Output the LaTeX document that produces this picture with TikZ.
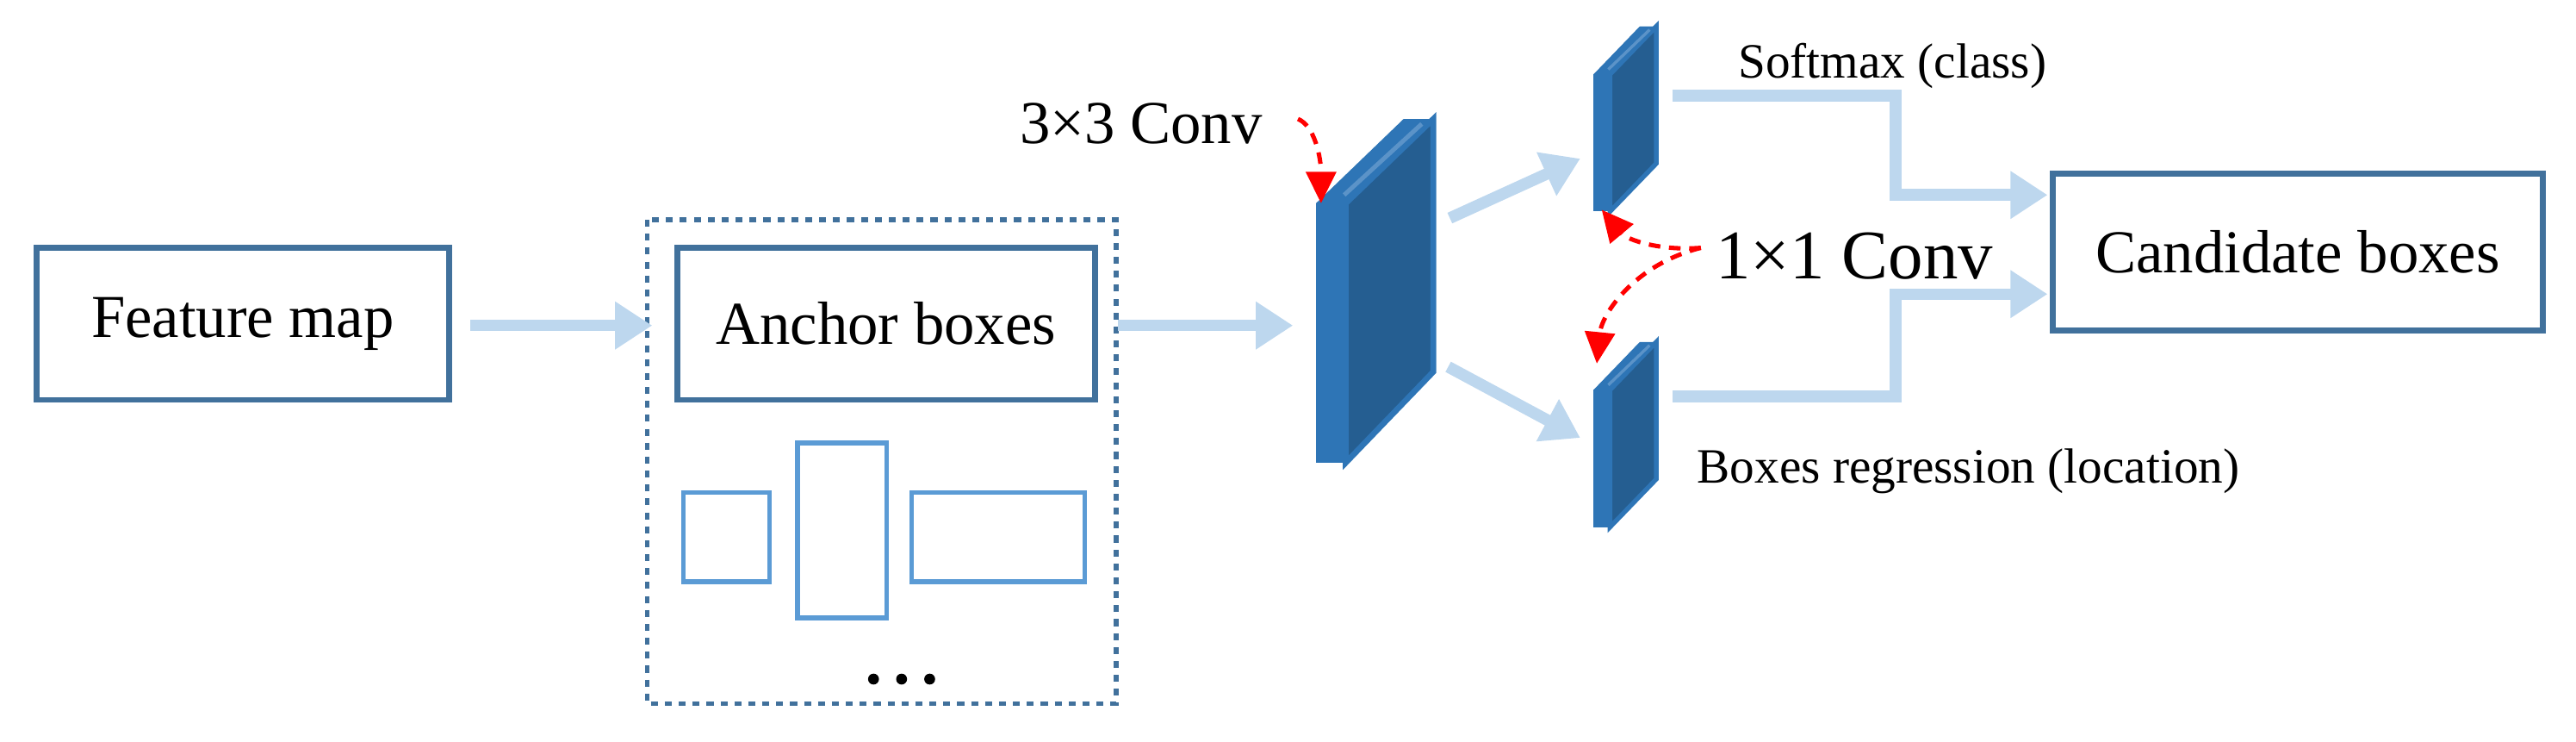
\documentclass[tikz,border=0pt]{standalone}
\usepackage{fontspec}
\setmainfont{Liberation Serif}
\usetikzlibrary{arrows.meta}
\definecolor{boxc}{HTML}{41719C}
\definecolor{lblue}{HTML}{BDD7EE}
\definecolor{anc}{HTML}{5B9BD5}
\definecolor{cfront}{HTML}{2E75B6}
\definecolor{cside}{HTML}{255E91}
\definecolor{chl}{HTML}{5B93C8}
\tikzset{
  box/.style={draw=boxc,line width=2pt,inner sep=0pt,font=\fontsize{21}{24}\selectfont},
  flow/.style={draw=lblue,line width=4pt,-{Triangle[length=0.45cm,width=0.55cm]}},
  red/.style={draw=red,line width=1.5pt,dash pattern=on 4pt off 3pt,-{Triangle[length=0.38cm,width=0.36cm]}},
  lab/.style={inner sep=0pt}
}
\begin{document}
\begin{tikzpicture}[x=0.02cm,y=-0.02cm]
\useasboundingbox (0,0) rectangle (1560,449);
% boxes
\node[box,minimum width=5cm,minimum height=1.84cm] (fm) at (147,196) {Feature map};
\draw[boxc,line width=1.6pt,dash pattern=on 2.4pt off 2.4pt] (392,133) rectangle (676,426);
\node[box,minimum width=5.06cm,minimum height=1.84cm] (ab) at (536.5,196) {Anchor boxes};
\node[box,minimum width=5.94cm,minimum height=1.9cm] (cb) at (1391.5,152.5) {Candidate boxes};
\draw[anc,line width=1.6pt] (414,298) rectangle (466,352);
\draw[anc,line width=1.6pt] (483,268) rectangle (537,374);
\draw[anc,line width=1.6pt] (552,298) rectangle (657,352);
\foreach \x in {529,546,563} \fill (\x,411) circle (3.3);
% big conv
\coordinate (c1) at (800,123);
\fill[cside,draw=cfront,line width=2pt] (815,123) -- (868,72) -- (868,225) -- (815,280) -- cycle;
\fill[cfront] (797,123) -- (850,72) -- (868,72) -- (815,123) -- cycle;
\draw[chl,line width=1.5pt] (814,118) -- (861,75);
\fill[cfront] (797,123) rectangle (815,280);
% small convs
\foreach \yt/\nm in {45/s1,236/s2}{
  \fill[cside,draw=cfront,line width=1.6pt] (975,\yt) -- (1003,\yt-29) -- (1003,\yt+54) -- (975,\yt+83) -- cycle;
  \fill[cfront] (965,\yt) -- (993,\yt-29) -- (1003,\yt-29) -- (975,\yt) -- cycle;
  \draw[chl,line width=1pt] (974,\yt-3) -- (999,\yt-27);
  \fill[cfront] (965,\yt) rectangle (975,\yt+83);
}
\coordinate (s1b) at (970,127);
\coordinate (s2t) at (967,220);
% labels
\node[lab,font=\fontsize{21}{24}\selectfont] (t33) at (691,75) {3×3 Conv};
\node[lab,font=\fontsize{24}{28}\selectfont] (t11) at (1123,155) {1×1 Conv};
\node[lab,font=\fontsize{17}{20}\selectfont] (tsm) at (1146,40) {Softmax (class)};
\node[lab,font=\fontsize{17}{20}\selectfont] (tbr) at (1192,285) {Boxes regression (location)};
% flow arrows
\coordinate (a1) at (285,197); \coordinate (a2) at (395,197);
\draw[flow] (a1) -- (a2);
\coordinate (a3) at (677,197); \coordinate (a4) at (783,197);
\draw[flow] (a3) -- (a4);
\coordinate (u1) at (878,132); \coordinate (u2) at (957,96);
\draw[flow] (u1) -- (u2);
\coordinate (l1) at (877,222); \coordinate (l2) at (957,265);
\draw[flow] (l1) -- (l2);
\coordinate (p1) at (1013,58); \coordinate (p2) at (1240,118);
\draw[flow] (p1) -- (1148,58) -- (1148,118) -- (p2);
\coordinate (q1) at (1013,240); \coordinate (q2) at (1240,178);
\draw[flow] (q1) -- (1148,240) -- (1148,178) -- (q2);
% red
\draw[red] (786,72) .. controls (796,76) and (800,95) .. (c1);
\coordinate (r0) at (1030,150);
\draw[red] (r0) .. controls (1005,152) and (985,145) .. (s1b);
\draw[red] (r0) .. controls (990,160) and (970,190) .. (s2t);
\end{tikzpicture}
\end{document}
